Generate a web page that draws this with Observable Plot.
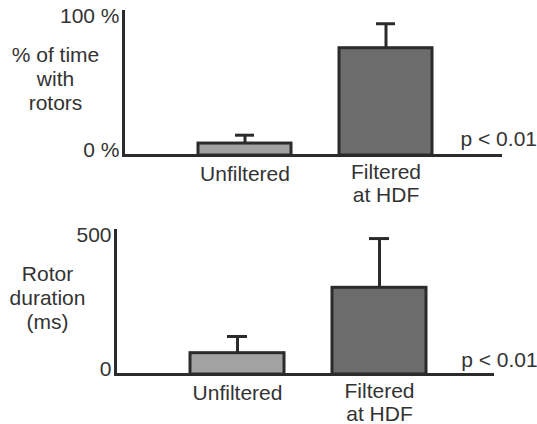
<!DOCTYPE html>
<html>
<head>
<meta charset="utf-8">
<script src="https://cdn.jsdelivr.net/npm/d3@7"></script>
<script src="https://cdn.jsdelivr.net/npm/@observablehq/plot@0.6"></script>
<style>
  html, body { margin: 0; padding: 0; background: #fff; }
  #chart svg { display: block; }
</style>
</head>
<body>
<div id="chart"></div>
<script>
// ---- data ----
const categories = ["Unfiltered", "Filtered\nat HDF"];
const timeWithRotorsPct = [8.3, 74.5];
const timeWithRotorsErr = [5.8, 17];
const rotorDurationMs = [74, 301];
const rotorDurationErr = [58, 171];
const topTicks = [0, 100];
const topTickLabels = ["0 %", "100 %"];
const bottomTicks = [0, 500];
const bottomTickLabels = ["0", "500"];
const topTitle = "% of time\nwith\nrotors";
const bottomTitle = "Rotor\nduration\n(ms)";
const pText = "p < 0.01";
const fills = ["#a2a2a2", "#6c6c6c"];

const ink = "#2b2b2b";
const textColor = "#333";
const font = "'Liberation Sans', Arial, sans-serif";

function makeRows(values, errs) {
  return categories.map((c, i) => ({cat: c, value: values[i], upper: values[i] + errs[i], fill: fills[i]}));
}

function panel({rows, ymax, ticks, tickLabels, title, height, marginTop, marginBottom, marginLeft, marginRight, xRange, pDx, pDy}) {
  const fmt = v => tickLabels[ticks.indexOf(v)];
  return Plot.plot({
    width: 537,
    height,
    marginTop, marginBottom, marginLeft, marginRight,
    style: {fontFamily: font, fontSize: "21px", color: textColor, background: "#fff"},
    x: {type: "band", domain: categories, range: xRange, paddingInner: 0.338, paddingOuter: 0},
    y: {domain: [0, ymax]},
    marks: [
      Plot.barY(rows, {x: "cat", y: "value", fill: "fill", stroke: ink, strokeWidth: 3}),
      Plot.ruleX(rows, {x: "cat", y1: "value", y2: "upper", stroke: ink, strokeWidth: 3}),
      Plot.tickY(rows, {x: "cat", y: "upper", stroke: ink, strokeWidth: 3, insetLeft: 37, insetRight: 37}),
      Plot.ruleY([0], {stroke: ink, strokeWidth: 3}),
      Plot.frame({anchor: "left", stroke: ink, strokeWidth: 3}),
      Plot.axisY([ticks[1]], {tickSize: 0, tickPadding: 4, tickFormat: fmt, label: null, dy: 5.2, fontSize: 21}),
      Plot.axisY([ticks[0]], {tickSize: 0, tickPadding: 4, tickFormat: fmt, label: null, dy: -5.7, fontSize: 21}),
      Plot.axisX([categories[0]], {tickSize: 0, tickPadding: 9.5, label: null, fontSize: 21, lineHeight: 1.07}),
      Plot.axisX([categories[1]], {tickSize: 0, tickPadding: 8, label: null, fontSize: 21, lineHeight: 1.07}),
      Plot.text([title], {text: d => d, frameAnchor: "left", textAnchor: "middle", dx: -68, dy: -5, lineHeight: 1.13, fontSize: 21, fill: textColor}),
      Plot.text([pText], {text: d => d, frameAnchor: "bottom-right", textAnchor: "start", lineAnchor: "bottom", dx: pDx, dy: pDy, fontSize: 21, fill: textColor})
    ]
  });
}

const topPanel = panel({
  rows: makeRows(timeWithRotorsPct, timeWithRotorsErr),
  ymax: 100, ticks: topTicks, tickLabels: topTickLabels, title: topTitle,
  height: 210, marginTop: 11, marginBottom: 55, marginLeft: 123, marginRight: 35,
  xRange: [197.5, 433.5], pDx: -42, pDy: -9.3
});
const bottomPanel = panel({
  rows: makeRows(rotorDurationMs, rotorDurationErr),
  ymax: 500, ticks: bottomTicks, tickLabels: bottomTickLabels, title: bottomTitle,
  height: 214, marginTop: 20, marginBottom: 50, marginLeft: 115, marginRight: 43,
  xRange: [189.5, 425.8], pDx: -33.3, pDy: -7.3
});
document.getElementById("chart").append(topPanel, bottomPanel);
</script>
</body>
</html>
